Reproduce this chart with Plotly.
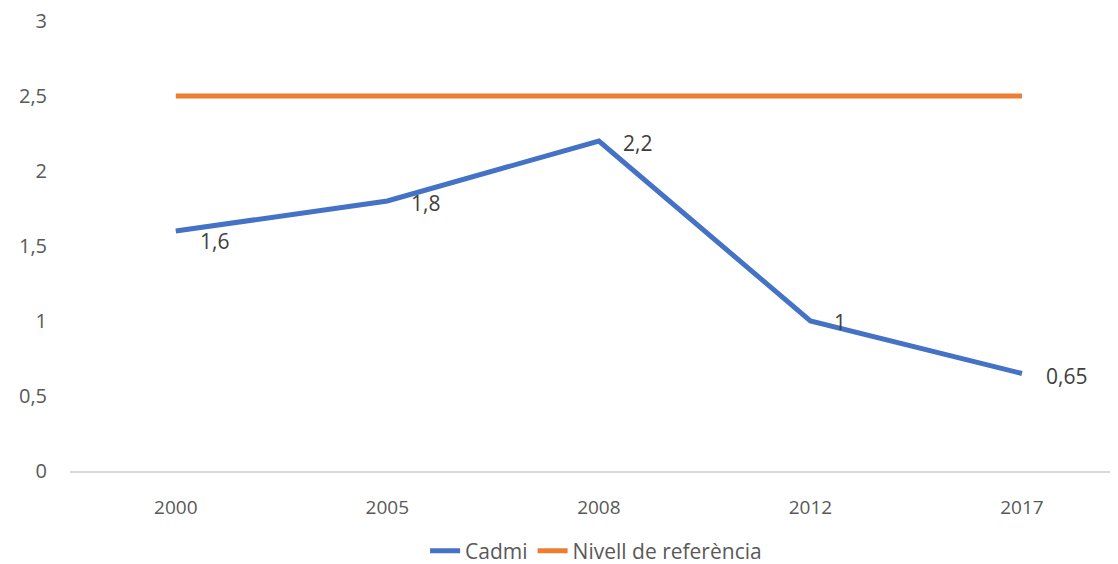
import plotly.graph_objects as go

years = ["2000", "2005", "2008", "2012", "2017"]
cadmi = [1.6, 1.8, 2.2, 1.0, 0.65]
referencia = [2.5, 2.5, 2.5, 2.5, 2.5]
y_ticks = [0, 0.5, 1, 1.5, 2, 2.5, 3]

label_yshift = [-10, -2, -2, -1, -2]

def fmt(v):
    return ("%g" % v).replace(".", ",")

fig = go.Figure()
fig.add_trace(go.Scatter(x=years, y=cadmi, mode="lines", name="Cadmi",
                         line=dict(color="#4472C4", width=5)))
fig.add_trace(go.Scatter(x=years, y=referencia, mode="lines", name="Nivell de referència",
                         line=dict(color="#ED7D31", width=5)))

for i, (v, ys) in enumerate(zip(cadmi, label_yshift)):
    fig.add_annotation(x=i, y=v, xref="x", yref="y", text=fmt(v), showarrow=False,
                       xanchor="left", yanchor="middle", xshift=22, yshift=ys,
                       font=dict(size=21, color="#404040", family="Open Sans"))

fig.update_layout(
    width=1110, height=556,
    margin=dict(l=62, r=0, t=13, b=93, autoexpand=False),
    plot_bgcolor="white", paper_bgcolor="white",
    separators=", ",
    font=dict(family="Open Sans", size=19, color="#595959"),
    showlegend=True,
    legend=dict(orientation="h", x=0.502, xanchor="center", y=-0.178, yanchor="middle",
                font=dict(size=21, color="#595959"),
                traceorder="normal"),
    xaxis=dict(type="category", range=[-0.5, 4.454], showgrid=False,
               showline=True, linecolor="#D9D9D9", linewidth=2, automargin=False,
               ticks="", ticklabelstandoff=18, zeroline=False,
               tickfont=dict(size=19, color="#595959")),
    yaxis=dict(range=[0, 3], tickvals=y_ticks, showgrid=False, zeroline=False,
               showline=False, ticks="", ticklabelstandoff=22, automargin=False,
               ticklabeloverflow="allow",
               tickfont=dict(size=20, color="#595959")),
)

fig.write_html("out.html")
